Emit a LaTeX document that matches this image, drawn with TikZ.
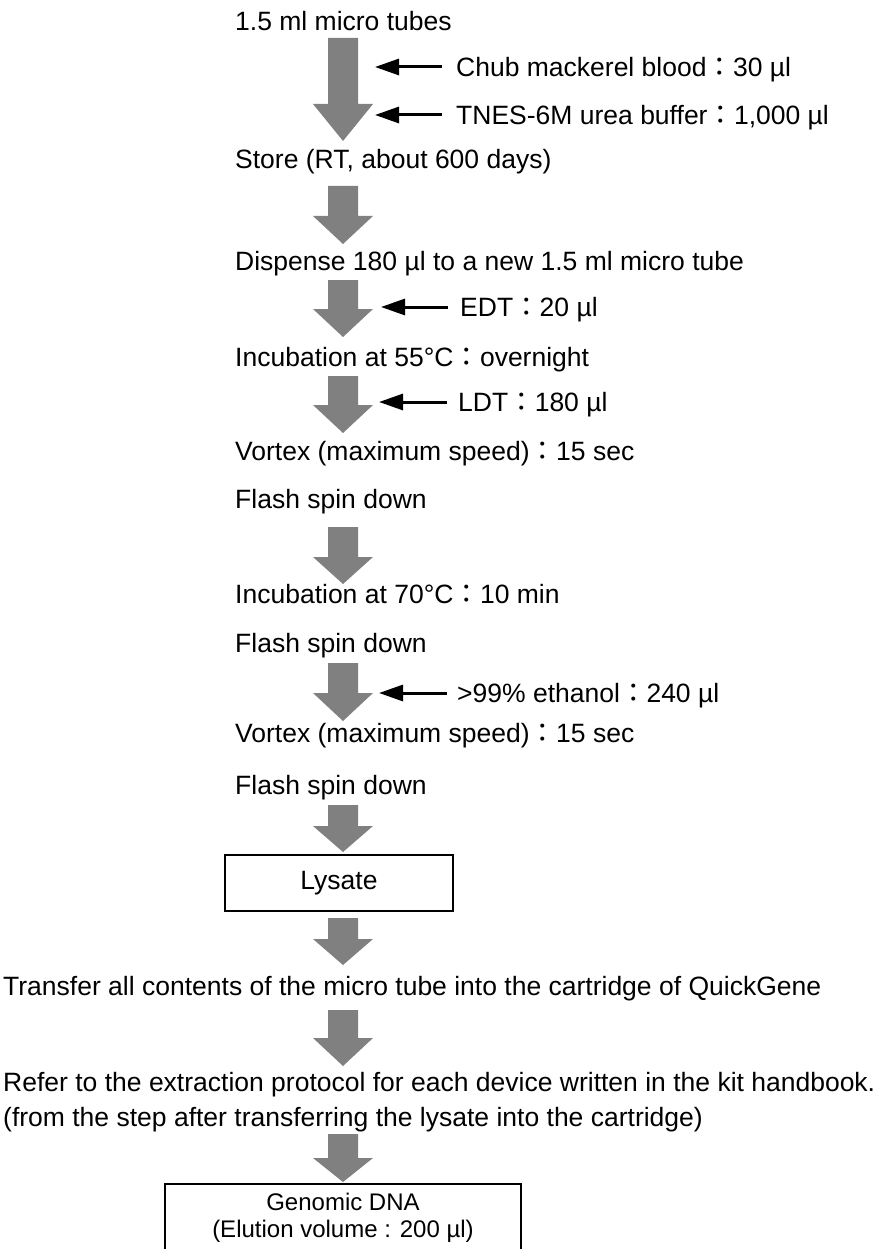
\documentclass[tikz,border=0pt]{standalone}
\usepackage{fontspec}
\setmainfont{Liberation Sans}
\newfontfamily\cjk{Noto Sans CJK JP}
\newcommand{\fc}{{\cjk ：}}
\usetikzlibrary{arrows.meta}
\definecolor{arrgray}{RGB}{128,128,128}
\newcommand{\blockarr}[3]{\fill[arrgray] (328,#1) -- (358,#1) -- (358,#2) -- (373,#2) -- (343,#3) -- (313,#2) -- (328,#2) -- cycle;}
\begin{document}
\begin{tikzpicture}[x=1pt,y=-1pt,
  font=\fontsize{26.5}{30}\selectfont,
  txt/.style={anchor=base west, inner sep=0pt},
  addtxt/.style={anchor=west, inner sep=0pt, text height=19pt, text depth=0pt},
  feed/.style={line width=3pt, -{Triangle[length=24pt,width=16pt]}},
  boxed/.style={draw, line width=1.5pt, minimum width=228pt, minimum height=56pt, inner sep=0pt},
  gtxt/.style={anchor=base, inner sep=0pt, font=\fontsize{24}{26}\selectfont}]
\useasboundingbox (0,0) rectangle (888,1249);

\node[txt] (t1) at (235,31) {1.5 ml micro tubes};
\blockarr{38}{104}{141}
\node[addtxt] (chub) at (456,67) {Chub mackerel blood\fc 30 µl};
\coordinate (tip1) at (375,67);
\draw[feed] ([xshift=-14pt]chub.west) -- (tip1);
\node[addtxt] (tnes) at (456,115) {TNES-6M urea buffer\fc 1,000 µl};
\coordinate (tip2) at (375,115);
\draw[feed] ([xshift=-14pt]tnes.west) -- (tip2);

\node[txt] (t2) at (235,169) {Store (RT, about 600 days)};
\blockarr{186}{216}{244}
\node[txt] (t3) at (235,270) {Dispense 180 µl to a new 1.5 ml micro tube};
\blockarr{280}{309}{337}
\node[addtxt] (edt) at (460,307) {EDT\fc 20 µl};
\coordinate (tip3) at (381,307);
\draw[feed] ([xshift=-12pt]edt.west) -- (tip3);

\node[txt] (t4) at (235,366) {Incubation at 55°C\fc overnight};
\blockarr{376}{405}{433}
\node[addtxt] (ldt) at (458,402) {LDT\fc 180 µl};
\coordinate (tip4) at (379,402);
\draw[feed] ([xshift=-11pt]ldt.west) -- (tip4);

\node[txt] (t5) at (235,460) {Vortex (maximum speed)\fc 15 sec};
\node[txt] (t6) at (235,508) {Flash spin down};
\blockarr{527}{557}{584}
\node[txt] (t7) at (235,603) {Incubation at 70°C\fc 10 min};
\node[txt] (t8) at (235,652) {Flash spin down};
\blockarr{663}{693}{721}
\node[addtxt] (eth) at (457,693) {>99\% ethanol\fc 240 µl};
\coordinate (tip5) at (379,693);
\draw[feed] ([xshift=-10pt]eth.west) -- (tip5);

\node[txt] (t9) at (235,742) {Vortex (maximum speed)\fc 15 sec};
\node[txt] (t10) at (235,794) {Flash spin down};
\blockarr{805}{826}{852}
\node[boxed] (lysate) at (339,883) {Lysate};
\blockarr{918}{939}{965}
\node[txt] (t11) at (3,995) {Transfer all contents of the micro tube into the cartridge of QuickGene};
\blockarr{1010}{1038}{1066}
\node[txt] (t12) at (3,1091) {Refer to the extraction protocol for each device written in the kit handbook.};
\node[txt] (t13) at (3,1126) {(from the step after transferring the lysate into the cartridge)};
\blockarr{1134}{1158}{1182}
\draw[line width=1.5pt] (165,1249) |- (521,1184) -- (521,1249);
\node[gtxt] (g1) at (343,1210) {Genomic DNA};
\node[gtxt] (g2) at (343,1237) {(Elution volume : 200 µl)};
\end{tikzpicture}
\end{document}
